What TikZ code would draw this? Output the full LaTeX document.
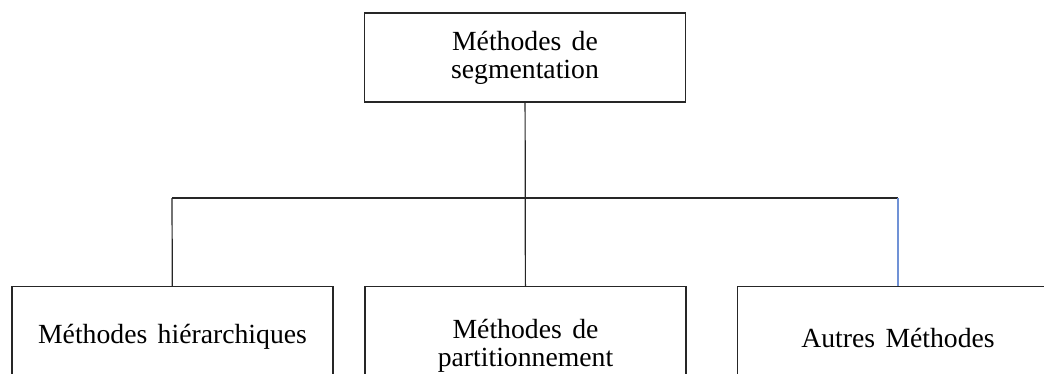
\documentclass[tikz,border=0pt]{standalone}
\usepackage{fontspec}
\setmainfont[WordSpace=1.5]{Liberation Serif}
\usepackage{tikz}
\usetikzlibrary{positioning}
\usepackage{xcolor}
\definecolor{lineblue}{RGB}{112,146,214}
\tikzstyle{box}=[draw=black!85,line width=1.2pt,rectangle,minimum width=321pt,inner sep=0pt,align=center,font=\fontsize{27.7}{28}\selectfont]

\begin{document}
\begin{tikzpicture}[x=1pt,y=-1pt, line width=1.2pt, link/.style = {draw=black!85}]
	\useasboundingbox (0,0) rectangle (1044,373);
	\clip (0,0) rectangle (1044,373);
	\node[box, minimum height=89pt] (seg) at (525,57.5) {Méthodes de\\segmentation};
	\node[box, anchor=north, minimum height=100pt] (hier) at (172.5,286) {Méthodes hiérarchiques};
	\node[box, anchor=north, minimum height=118pt] (part) at (525.5,286) {Méthodes de\\partitionnement};
	\node[box, anchor=north, minimum height=102pt] (autres) at (898,286) {Autres Méthodes};
	\coordinate (jl) at (172,198);
	\coordinate (jm) at (525,198);
	\coordinate (jr) at (898,198);
	\draw[link] (seg) -- (part);
	\draw[link] (jl) -- (jr);
	\draw[link] (jl) -- (hier);
	\draw[draw=lineblue] (jr) -- (autres);
\end{tikzpicture}
\end{document}
